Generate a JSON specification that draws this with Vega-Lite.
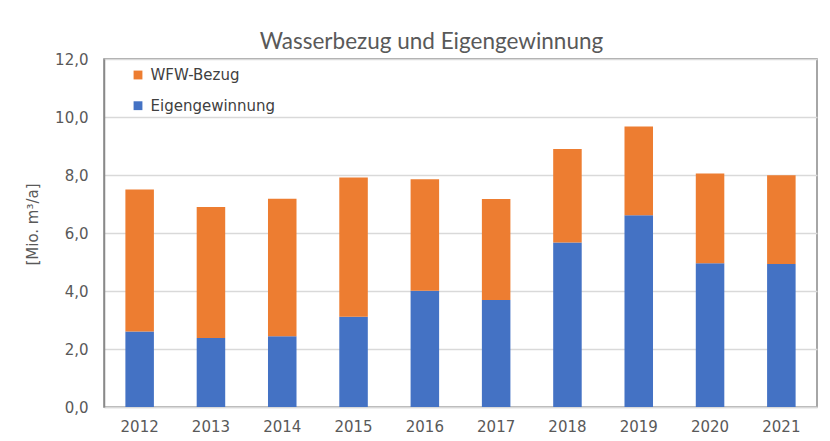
{
  "$schema": "https://vega.github.io/schema/vega-lite/v6.json",
  "width": 713,
  "height": 348,
  "autosize": {"type": "none"},
  "padding": {"left": 104, "top": 59, "right": 13, "bottom": 34},
  "background": "white",
  "title": {
    "text": "Wasserbezug und Eigengewinnung",
    "font": "Lato",
    "fontSize": 22.5,
    "fontWeight": "normal",
    "color": "#595959",
    "anchor": "middle",
    "dx": -29,
    "offset": -1
  },
  "data": {
    "values": [
      {"year": "2012", "series": "Eigengewinnung", "value": 2.60},
      {"year": "2012", "series": "WFW-Bezug", "value": 4.90},
      {"year": "2013", "series": "Eigengewinnung", "value": 2.38},
      {"year": "2013", "series": "WFW-Bezug", "value": 4.52},
      {"year": "2014", "series": "Eigengewinnung", "value": 2.44},
      {"year": "2014", "series": "WFW-Bezug", "value": 4.74},
      {"year": "2015", "series": "Eigengewinnung", "value": 3.11},
      {"year": "2015", "series": "WFW-Bezug", "value": 4.80},
      {"year": "2016", "series": "Eigengewinnung", "value": 4.01},
      {"year": "2016", "series": "WFW-Bezug", "value": 3.84},
      {"year": "2017", "series": "Eigengewinnung", "value": 3.69},
      {"year": "2017", "series": "WFW-Bezug", "value": 3.48},
      {"year": "2018", "series": "Eigengewinnung", "value": 5.67},
      {"year": "2018", "series": "WFW-Bezug", "value": 3.23},
      {"year": "2019", "series": "Eigengewinnung", "value": 6.61},
      {"year": "2019", "series": "WFW-Bezug", "value": 3.06},
      {"year": "2020", "series": "Eigengewinnung", "value": 4.96},
      {"year": "2020", "series": "WFW-Bezug", "value": 3.09},
      {"year": "2021", "series": "Eigengewinnung", "value": 4.93},
      {"year": "2021", "series": "WFW-Bezug", "value": 3.06}
    ]
  },
  "mark": {"type": "bar"},
  "encoding": {
    "x": {
      "field": "year",
      "type": "ordinal",
      "scale": {"paddingInner": 0.6, "paddingOuter": 0.3},
      "axis": {
        "title": null,
        "labelAngle": 0,
        "labelFont": "DejaVu Sans",
        "labelFontSize": 15,
        "labelColor": "#595959",
        "labelPadding": 12,
        "ticks": false,
        "domainColor": "#d9d9d9",
        "domainWidth": 1.5
      }
    },
    "y": {
      "field": "value",
      "type": "quantitative",
      "stack": "zero",
      "scale": {"domain": [0, 12], "nice": false},
      "axis": {
        "title": "[Mio. m³/a]",
        "titleFont": "DejaVu Sans",
        "titleFontSize": 15,
        "titleFontWeight": "normal",
        "titleColor": "#595959",
        "titleX": -67,
        "titleY": 165,
        "titleBaseline": "alphabetic",
        "titleAlign": "center",
        "titleAngle": -90,
        "values": [0, 2, 4, 6, 8, 10, 12],
        "labelExpr": "replace(format(datum.value, '.1f'), '.', ',')",
        "labelFont": "DejaVu Sans",
        "labelFontSize": 15,
        "labelColor": "#595959",
        "labelPadding": 16,
        "ticks": false,
        "domainColor": "#898989",
        "domainWidth": 1.5,
        "gridColor": "#d9d9d9",
        "gridWidth": 1.5
      }
    },
    "color": {
      "field": "series",
      "type": "nominal",
      "scale": {
        "domain": ["WFW-Bezug", "Eigengewinnung"],
        "range": ["#ED7D31", "#4472C4"]
      },
      "legend": {
        "title": null,
        "orient": "none",
        "legendX": 26.5,
        "legendY": 8.5,
        "symbolType": "square",
        "symbolSize": 78,
        "symbolStrokeWidth": 0,
        "labelFont": "DejaVu Sans",
        "labelFontSize": 15,
        "labelColor": "#404040",
        "labelOffset": 5,
        "rowPadding": 14.7
      }
    },
    "order": {"field": "series", "sort": "ascending"}
  },
  "config": {
    "view": {"stroke": "#898989", "strokeWidth": 1.5}
  }
}
